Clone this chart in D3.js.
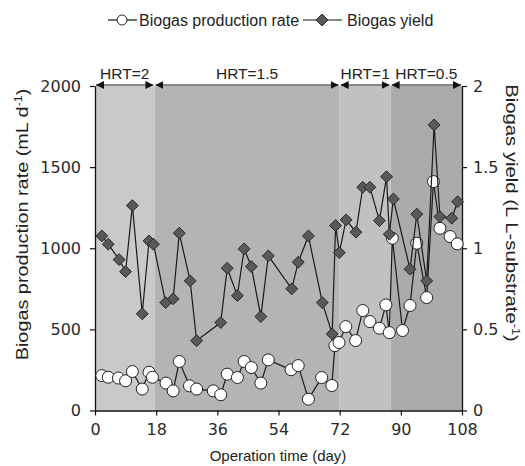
<!DOCTYPE html>
<html>
<head>
<meta charset="utf-8">
<script src="https://cdn.jsdelivr.net/npm/d3@7"></script>
<style>
  body { margin: 0; background: #fff; }
  svg text { font-family: "Liberation Sans", Arial, sans-serif; fill: #222; }
  svg .tick text { font-family: "DejaVu Sans", sans-serif; fill: #2a2a2a; }
</style>
</head>
<body>
<svg id="chart" width="525" height="466"></svg>
<script>
// 数据
var rateDays = [2, 3.9, 6.9, 9, 11, 13.9, 15.9, 16.9, 20.9, 23, 24.8, 27.8, 29.9, 34.8, 37, 38.9, 41.9, 43.9, 46, 48.8, 51,
  57.7, 59.8, 62.8, 66.7, 69.7, 70.6, 71.8, 73.8, 76.7, 78.8, 80.9, 83.7, 85.6, 86.6, 87.5, 90.5, 92.7, 94.7, 97.6, 99.6, 101.5, 104.5, 106.6];
var rateValues = [215, 205, 200, 183, 240, 132, 236, 205, 169, 121, 302, 152, 132, 121, 97, 224, 203, 302, 265, 169, 312,
  251, 277, 70, 203, 154, 400, 419, 517, 431, 616, 548, 507, 651, 480, 1062, 493, 647, 1031, 696, 1411, 1123, 1072, 1027];

var yieldDays = [2, 3.9, 7.1, 9, 11, 13.9, 15.9, 17.2, 20.8, 23, 24.8, 28, 29.9, 37, 38.9, 41.9, 43.9, 46, 48.8, 51,
  57.9, 59.8, 62.8, 66.9, 69.8, 70.8, 71.9, 73.9, 76.8, 78.8, 80.9, 83.7, 85.8, 86.6, 87.8, 92.7, 94.7, 97.6, 99.8, 101.5, 105, 106.7];
var yieldValues = [1.076, 1.025, 0.93, 0.856, 1.263, 0.596, 1.045, 1.025, 0.665, 0.688, 1.093, 0.799, 0.43, 0.542, 0.877, 0.708, 0.996, 0.887, 0.579, 0.953,
  0.75, 0.914, 1.076, 0.665, 0.472, 1.14, 0.973, 1.175, 1.099, 1.376, 1.376, 1.17, 1.441, 1.086, 1.304, 0.871, 1.21, 0.799, 1.76, 1.195, 1.185, 1.287];

var hrtLabels = ["HRT=2", "HRT=1.5", "HRT=1", "HRT=0.5"];
var hrtStarts = [0, 17.5, 72, 87];
var hrtEnds = [17.5, 72, 87, 108];
var hrtColors = ["#c9c9c9", "#b4b4b4", "#c1c1c1", "#ababab"];

var xTicks = [0, 18, 36, 54, 72, 90, 108];
var leftTicks = [0, 500, 1000, 1500, 2000];
var rightTicks = [0, 0.5, 1, 1.5, 2];

var svg = d3.select("#chart");
var pLeft = 95, pRight = 462, pTop = 86, pBottom = 410.5;

var x = d3.scaleLinear().domain([0, 108]).range([pLeft, pRight]);
var yL = d3.scaleLinear().domain([0, 2000]).range([pBottom, pTop]);
var yR = d3.scaleLinear().domain([0, 2]).range([pBottom, pTop]);

//背景色块
svg.append("g").selectAll("rect")
  .data(hrtLabels)
  .enter().append("rect")
  .attr("x", function(d, i) { return x(hrtStarts[i]); })
  .attr("y", pTop)
  .attr("width", function(d, i) { return x(hrtEnds[i]) - x(hrtStarts[i]); })
  .attr("height", pBottom - pTop)
  .attr("fill", function(d, i) { return hrtColors[i]; });

//坐标轴
function styleAxis(g) {
  g.selectAll("path").attr("stroke", "#111").attr("stroke-width", 1.3);
  g.selectAll("line").attr("stroke", "#111").attr("stroke-width", 1.2);
  g.selectAll("text").style("font-size", "16px").attr("fill", "#2a2a2a");
}

svg.append("g")
  .attr("transform", "translate(0," + pBottom + ")")
  .call(d3.axisBottom(x).tickValues(xTicks).tickSize(5).tickPadding(8).tickSizeOuter(0))
  .call(styleAxis);

svg.append("g")
  .attr("transform", "translate(" + pLeft + ",0)")
  .call(d3.axisLeft(yL).tickValues(leftTicks).tickFormat(d3.format("")).tickSize(5).tickPadding(9).tickSizeOuter(0))
  .call(styleAxis);

svg.append("g")
  .attr("transform", "translate(" + pRight + ",0)")
  .call(d3.axisRight(yR).tickValues(rightTicks).tickFormat(d3.format("")).tickSize(5).tickPadding(6).tickSizeOuter(0))
  .call(styleAxis);

//HRT 箭头
var defs = svg.append("defs");
["arrEnd", "arrStart"].forEach(function(id, k) {
  defs.append("marker")
    .attr("id", id)
    .attr("viewBox", "0 0 10 10")
    .attr("refX", 10).attr("refY", 5)
    .attr("markerWidth", 8).attr("markerHeight", 8)
    .attr("markerUnits", "userSpaceOnUse")
    .attr("orient", k === 0 ? "auto" : "auto-start-reverse")
    .append("path")
    .attr("d", "M0,0L10,5L0,10Z")
    .attr("fill", "#111");
});

var arrowY = pTop - 1;
var hrt = svg.append("g");
hrt.selectAll("line")
  .data(hrtLabels)
  .enter().append("line")
  .attr("x1", function(d, i) { return x(hrtStarts[i]) + 1; })
  .attr("x2", function(d, i) { return x(hrtEnds[i]) - 1; })
  .attr("y1", arrowY).attr("y2", arrowY)
  .attr("stroke", "#111").attr("stroke-width", 1.2)
  .attr("marker-start", "url(#arrStart)")
  .attr("marker-end", "url(#arrEnd)");
hrt.selectAll("text")
  .data(hrtLabels)
  .enter().append("text")
  .attr("x", function(d, i) { return x((hrtStarts[i] + hrtEnds[i]) / 2); })
  .attr("y", arrowY - 6)
  .attr("text-anchor", "middle")
  .style("font-size", "15.5px")
  .text(function(d) { return d; });

//折线
var rateData = rateDays.map(function(d, i) { return [d, rateValues[i]]; });
var yieldData = yieldDays.map(function(d, i) { return [d, yieldValues[i]]; });

var rateLine = d3.line().x(function(d) { return x(d[0]); }).y(function(d) { return yL(d[1]); });
var yieldLine = d3.line().x(function(d) { return x(d[0]); }).y(function(d) { return yR(d[1]); });

svg.append("path")
  .datum(rateData)
  .attr("d", rateLine)
  .attr("fill", "none").attr("stroke", "#1a1a1a").attr("stroke-width", 1.2);
svg.append("g").selectAll("circle")
  .data(rateData)
  .enter().append("circle")
  .attr("cx", function(d) { return x(d[0]); })
  .attr("cy", function(d) { return yL(d[1]); })
  .attr("r", 6)
  .attr("fill", "#fff").attr("stroke", "#222").attr("stroke-width", 1);

var diamond = d3.symbol().type(d3.symbolDiamond2).size(90);
svg.append("path")
  .datum(yieldData)
  .attr("d", yieldLine)
  .attr("fill", "none").attr("stroke", "#1a1a1a").attr("stroke-width", 1.2);
svg.append("g").selectAll("path")
  .data(yieldData)
  .enter().append("path")
  .attr("d", diamond)
  .attr("transform", function(d) { return "translate(" + x(d[0]) + "," + yR(d[1]) + ")"; })
  .attr("fill", "#595959").attr("stroke", "#2a2a2a").attr("stroke-width", 1);

//图例
var lg = svg.append("g");
lg.append("line").attr("x1", 108).attr("x2", 137).attr("y1", 20).attr("y2", 20).attr("stroke", "#111").attr("stroke-width", 1.2);
lg.append("circle").attr("cx", 122).attr("cy", 20).attr("r", 5).attr("fill", "#fff").attr("stroke", "#222");
lg.append("text").attr("x", 139).attr("y", 25.5).style("font-size", "16px").text("Biogas production rate");
lg.append("line").attr("x1", 303).attr("x2", 342).attr("y1", 20).attr("y2", 20).attr("stroke", "#111").attr("stroke-width", 1.2);
lg.append("path").attr("d", diamond).attr("transform", "translate(322,20)").attr("fill", "#595959").attr("stroke", "#2a2a2a");
lg.append("text").attr("x", 347).attr("y", 25.5).style("font-size", "16px").text("Biogas yield");

//坐标轴标题
svg.append("text")
  .attr("x", 278).attr("y", 461)
  .attr("text-anchor", "middle")
  .style("font-size", "15px")
  .text("Operation time (day)");

var lt = svg.append("text")
  .attr("transform", "translate(28,224.5) rotate(-90) scale(1.24,1)")
  .attr("text-anchor", "middle")
  .style("font-size", "16px");
lt.append("tspan").text("Biogas production rate (mL d");
lt.append("tspan").attr("dy", -6).style("font-size", "10px").text("-1");
lt.append("tspan").attr("dy", 6).text(")");

var rt = svg.append("text")
  .attr("transform", "translate(506,213) rotate(90) scale(1.27,1)")
  .attr("text-anchor", "middle")
  .style("font-size", "16px");
rt.append("tspan").text("Biogas yield (L L-substrate");
rt.append("tspan").attr("dy", -6).style("font-size", "10px").text("-1");
rt.append("tspan").attr("dy", 6).text(")");
</script>
</body>
</html>
